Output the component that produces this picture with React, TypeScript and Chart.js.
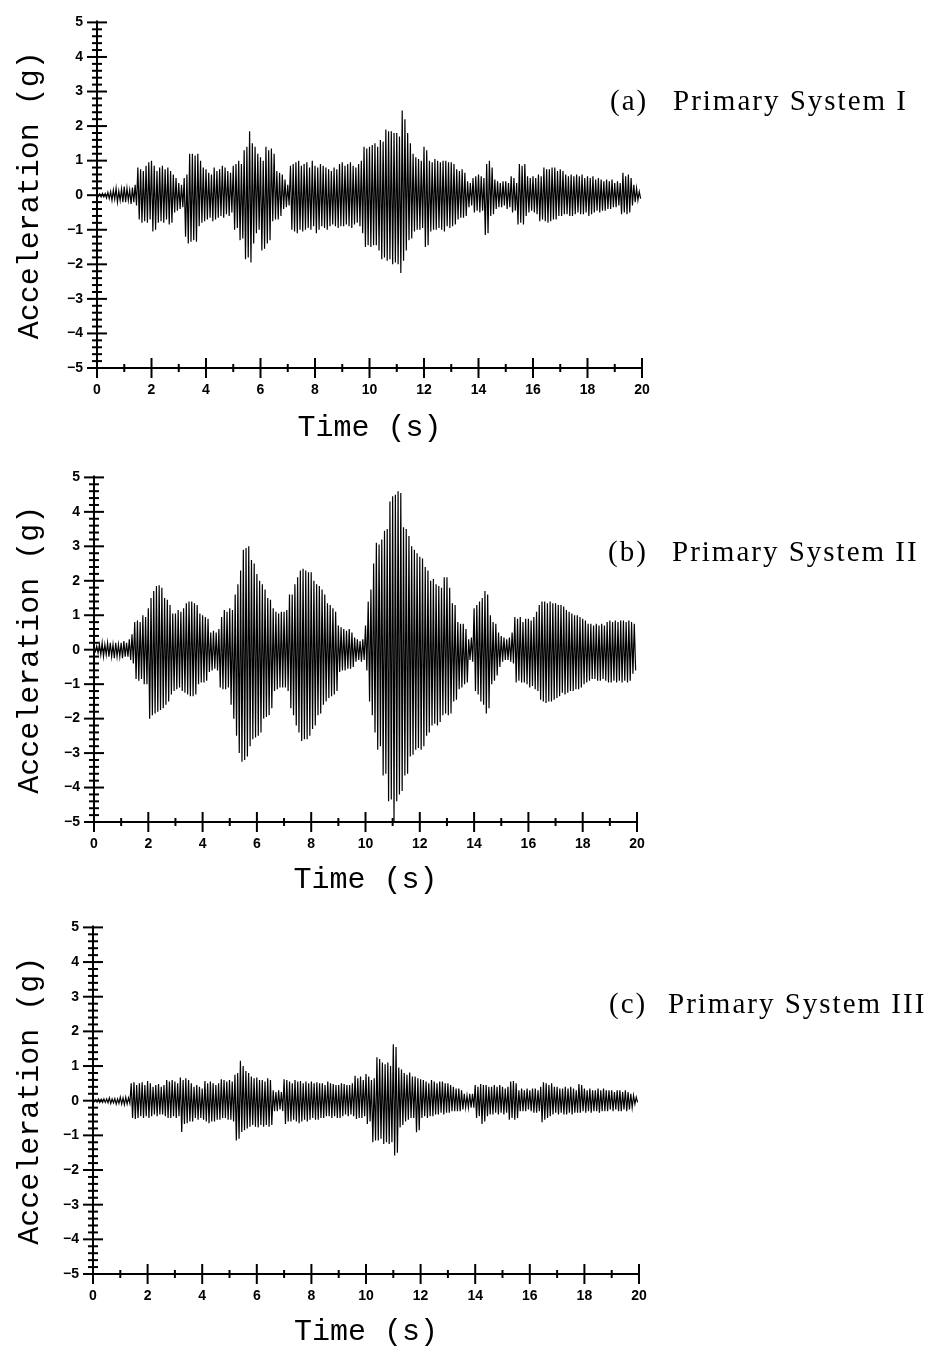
import React, { useEffect, useRef } from 'react';
import { Chart, registerables } from 'chart.js';

Chart.register(...registerables);

// Tick values
const X_TICKS = [0, 2, 4, 6, 8, 10, 12, 14, 16, 18, 20];
const Y_TICKS = [-5, -4, -3, -2, -1, 0, 1, 2, 3, 4, 5];

// Peak readings (g): positive peaks at t = 0.0, 0.1, ..., 19.9 s,
// negative peaks at t = 0.05, 0.15, ..., 19.95 s (one row = 1 s)
const PEAK_STEP = 0.1;

// (a) Primary System I
const upA = [
  0.03, 0.04, 0.05, 0.05, 0.08, 0.1, 0.15, 0.2, 0.12, 0.18,
  0.25, 0.2, 0.15, 0.22, 0.3, 0.8, 0.75, 0.7, 0.85, 0.95,
  1.0, 0.85, 0.7, 0.8, 0.85, 0.75, 0.8, 0.7, 0.6, 0.5,
  0.35, 0.3, 0.5, 0.6, 1.2, 1.2, 1.15, 1.2, 1.0, 0.8,
  0.75, 0.65, 0.6, 0.8, 0.7, 0.75, 0.85, 0.8, 0.7, 0.65,
  0.85, 0.9, 1.0, 0.9, 1.3, 1.4, 1.85, 1.5, 1.4, 1.2,
  1.1, 1.0, 1.4, 1.3, 1.35, 1.2, 0.7, 0.65, 0.6, 0.45,
  0.3, 0.85, 0.9, 0.95, 1.0, 0.85, 0.9, 0.95, 0.8, 1.0,
  0.85, 0.8, 0.9, 0.85, 0.8, 0.75, 0.7, 0.8, 0.75, 0.9,
  0.95, 0.85, 0.9, 0.95, 0.85, 0.8, 0.9, 1.0, 1.4, 1.35,
  1.4, 1.45, 1.5, 1.4, 1.6, 1.55, 1.9, 1.85, 1.85, 1.8,
  1.8, 1.7, 2.45, 2.2, 1.8, 1.5, 1.2, 1.1, 1.05, 1.0,
  1.4, 1.3, 1.0, 0.95, 1.05, 1.0, 0.95, 1.0, 1.0, 0.95,
  0.95, 0.9, 0.75, 0.7, 0.75, 0.65, 0.4, 0.35, 0.5, 0.55,
  0.6, 0.55, 0.5, 0.9, 1.0, 0.8, 0.45, 0.4, 0.35, 0.4,
  0.4, 0.35, 0.55, 0.5, 0.35, 0.9, 0.85, 0.9, 0.55, 0.5,
  0.55, 0.5, 0.6, 0.55, 0.8, 0.75, 0.75, 0.8, 0.8, 0.7,
  0.75, 0.7, 0.6, 0.55, 0.6, 0.55, 0.6, 0.55, 0.6, 0.5,
  0.55, 0.5, 0.55, 0.45, 0.5, 0.45, 0.4, 0.45, 0.4, 0.45,
  0.35, 0.4, 0.35, 0.65, 0.55, 0.6, 0.5, 0.3, 0.2, 0.1,
];
const downA = [
  -0.03, -0.05, -0.05, -0.08, -0.1, -0.15, -0.12, -0.2, -0.15, -0.2,
  -0.2, -0.15, -0.25, -0.2, -0.3, -0.7, -0.8, -0.75, -0.8, -0.7,
  -1.05, -1.0, -0.8, -0.75, -0.8, -0.7, -0.85, -0.8, -0.5, -0.45,
  -0.4, -0.35, -1.2, -1.4, -1.35, -1.3, -1.35, -0.9, -0.8, -0.75,
  -0.7, -0.65, -0.75, -0.7, -0.65, -0.6, -0.65, -0.55, -0.6, -0.5,
  -1.0, -0.95, -1.3, -1.25, -1.85, -1.8, -1.95, -1.4, -1.1, -1.0,
  -1.6, -1.55, -1.4, -1.3, -0.75, -0.7, -0.7, -0.6, -0.4, -0.35,
  -0.3, -1.0, -1.05, -1.1, -1.0, -1.05, -1.0, -0.95, -1.0, -0.9,
  -1.1, -1.0, -0.9, -0.95, -1.0, -0.9, -0.85, -0.9, -0.95, -0.9,
  -0.9, -0.85, -0.9, -0.95, -0.85, -0.8, -0.9, -1.1, -1.5, -1.45,
  -1.5, -1.45, -1.45, -1.6, -1.85, -1.8, -1.9, -1.85, -2.0, -1.95,
  -2.0, -2.25, -1.9, -1.6, -1.3, -1.25, -1.05, -1.0, -1.0, -0.95,
  -1.5, -1.45, -1.05, -1.0, -1.0, -0.95, -1.0, -1.05, -0.9, -0.95,
  -0.9, -0.85, -0.7, -0.65, -0.65, -0.6, -0.35, -0.3, -0.5, -0.45,
  -0.5, -0.45, -1.15, -1.1, -0.6, -0.55, -0.4, -0.35, -0.35, -0.3,
  -0.4, -0.35, -0.5, -0.45, -0.85, -0.8, -0.85, -0.6, -0.5, -0.45,
  -0.5, -0.55, -0.75, -0.7, -0.75, -0.8, -0.75, -0.7, -0.7, -0.6,
  -0.6, -0.55, -0.55, -0.6, -0.6, -0.55, -0.5, -0.55, -0.55, -0.5,
  -0.6, -0.55, -0.5, -0.45, -0.5, -0.45, -0.45, -0.4, -0.4, -0.35,
  -0.35, -0.3, -0.55, -0.5, -0.55, -0.5, -0.3, -0.2, -0.15, -0.1,
];

// (b) Primary System II
const upB = [
  0.05, 0.1, 0.15, 0.2, 0.15, 0.2, 0.2, 0.15, 0.2, 0.15,
  0.2, 0.25, 0.2, 0.3, 0.45, 0.8, 0.85, 0.8, 1.0, 0.95,
  1.2, 1.5, 1.7, 1.85, 1.87, 1.8, 1.5, 1.45, 1.3, 1.05,
  1.05, 1.15, 1.1, 1.2, 1.35, 1.4, 1.4, 1.35, 1.3, 1.05,
  1.0, 0.95, 0.9, 0.5, 0.55, 0.5, 0.6, 0.95, 1.15, 1.1,
  1.2, 1.15, 1.6, 1.9, 2.3, 2.9, 2.95, 3.0, 2.6, 2.5,
  2.2, 2.0, 1.9, 1.75, 1.5, 1.45, 1.2, 1.1, 1.05, 1.1,
  1.1, 1.15, 1.6, 1.6, 1.9, 2.1, 2.3, 2.35, 2.3, 2.25,
  2.25, 2.0, 1.9, 1.85, 1.75, 1.6, 1.35, 1.3, 1.2, 1.1,
  0.7, 0.65, 0.6, 0.55, 0.6, 0.5, 0.35, 0.3, 0.25, 0.3,
  0.7, 1.4, 1.75, 2.5, 3.1, 3.05, 3.2, 3.45, 3.5, 4.3,
  4.45, 4.5, 4.6, 4.55, 3.55, 3.5, 3.3, 3.0, 2.9, 2.8,
  2.7, 2.65, 2.4, 2.3, 2.0, 2.05, 1.9, 1.85, 1.8, 2.1,
  2.1, 1.8, 1.35, 1.3, 0.8, 0.75, 0.75, 0.6, 0.3, 0.35,
  1.2, 1.3, 1.4, 1.5, 1.7, 1.6, 1.0, 0.8, 0.75, 0.5,
  0.4, 0.35, 0.3, 0.35, 0.5, 0.95, 0.9, 0.95, 0.8, 0.9,
  0.9, 0.85, 0.95, 1.1, 1.3, 1.4, 1.4, 1.35, 1.4, 1.35,
  1.35, 1.3, 1.3, 1.25, 1.15, 1.1, 1.05, 1.0, 1.0, 0.95,
  0.9, 0.85, 0.75, 0.75, 0.7, 0.75, 0.7, 0.75, 0.7, 0.8,
  0.85, 0.8, 0.85, 0.8, 0.85, 0.85, 0.8, 0.85, 0.8, 0.75,
];
const downB = [
  -0.05, -0.1, -0.15, -0.2, -0.15, -0.2, -0.2, -0.25, -0.2, -0.2,
  -0.25, -0.2, -0.2, -0.3, -0.4, -0.85, -0.9, -0.85, -1.0, -1.0,
  -2.0, -1.9, -1.85, -1.8, -1.75, -1.7, -1.6, -1.5, -1.3, -1.2,
  -1.15, -1.1, -1.2, -1.25, -1.3, -1.35, -1.35, -1.3, -1.0, -0.95,
  -0.95, -0.9, -0.65, -0.6, -0.55, -0.6, -1.1, -1.15, -1.15, -1.1,
  -1.6, -2.0, -2.5, -3.0, -3.25, -3.2, -3.1, -2.8, -2.6, -2.55,
  -2.5, -2.4, -2.0, -1.95, -1.9, -1.7, -1.2, -1.15, -1.1, -1.1,
  -1.1, -1.2, -1.7, -1.9, -2.2, -2.4, -2.65, -2.6, -2.6, -2.5,
  -2.3, -2.2, -1.9, -1.85, -1.6, -1.5, -1.4, -1.35, -1.3, -1.2,
  -0.65, -0.6, -0.6, -0.55, -0.55, -0.5, -0.35, -0.3, -0.35, -0.3,
  -0.6, -1.5, -1.9, -2.4, -2.9, -2.8, -3.65, -3.6, -4.4, -4.35,
  -5.0, -4.4, -4.2, -4.1, -3.65, -3.6, -3.1, -3.05, -2.9, -2.85,
  -2.9, -2.8, -2.5, -2.4, -2.2, -2.15, -2.2, -2.1, -1.9, -1.85,
  -1.9, -1.85, -1.5, -1.45, -1.15, -1.1, -1.0, -0.95, -0.3, -0.35,
  -1.2, -1.3, -1.5, -1.6, -1.85, -1.7, -1.0, -0.9, -0.75, -0.5,
  -0.35, -0.3, -0.3, -0.35, -0.4, -0.95, -0.9, -0.95, -0.95, -1.0,
  -1.1, -1.05, -1.15, -1.2, -1.45, -1.5, -1.55, -1.5, -1.5, -1.45,
  -1.4, -1.35, -1.25, -1.3, -1.25, -1.2, -1.2, -1.15, -1.15, -1.1,
  -1.0, -0.95, -0.9, -0.85, -0.85, -0.9, -0.9, -0.85, -0.9, -0.95,
  -0.95, -0.9, -0.95, -0.9, -0.95, -0.9, -0.95, -0.9, -0.7, -0.6,
];

// (c) Primary System III
const upC = [
  0.03, 0.03, 0.05, 0.04, 0.05, 0.05, 0.08, 0.05, 0.06, 0.05,
  0.1, 0.08, 0.1, 0.08, 0.5, 0.53, 0.45, 0.5, 0.53, 0.45,
  0.57, 0.5, 0.4, 0.45, 0.48, 0.4, 0.45, 0.6, 0.55, 0.6,
  0.55, 0.5, 0.67, 0.6, 0.65, 0.6, 0.5, 0.4, 0.45, 0.4,
  0.35, 0.57, 0.5, 0.55, 0.5, 0.45, 0.5, 0.62, 0.6, 0.55,
  0.6, 0.55, 0.75, 0.8, 1.15, 1.0, 0.86, 0.8, 0.7, 0.65,
  0.67, 0.6, 0.6, 0.55, 0.65, 0.6, 0.3, 0.25, 0.3, 0.25,
  0.62, 0.6, 0.55, 0.5, 0.6, 0.55, 0.57, 0.5, 0.55, 0.5,
  0.55, 0.5, 0.53, 0.5, 0.5, 0.45, 0.55, 0.5, 0.48, 0.45,
  0.45, 0.5, 0.48, 0.45, 0.45, 0.5, 0.72, 0.65, 0.7, 0.6,
  0.77, 0.7, 0.6, 0.65, 1.25, 1.2, 1.1, 1.05, 1.1, 1.0,
  1.63, 1.55, 0.96, 0.9, 0.8, 0.75, 0.81, 0.7, 0.7, 0.65,
  0.62, 0.6, 0.55, 0.5, 0.6, 0.55, 0.5, 0.55, 0.55, 0.5,
  0.5, 0.45, 0.4, 0.35, 0.35, 0.3, 0.2, 0.15, 0.2, 0.2,
  0.45, 0.4, 0.48, 0.45, 0.45, 0.4, 0.4, 0.45, 0.4, 0.45,
  0.4, 0.35, 0.4, 0.55, 0.57, 0.5, 0.3, 0.35, 0.3, 0.35,
  0.3, 0.35, 0.35, 0.3, 0.4, 0.53, 0.5, 0.45, 0.5, 0.4,
  0.4, 0.35, 0.35, 0.4, 0.35, 0.4, 0.35, 0.3, 0.48, 0.45,
  0.35, 0.3, 0.35, 0.3, 0.3, 0.35, 0.3, 0.35, 0.3, 0.3,
  0.3, 0.25, 0.3, 0.3, 0.25, 0.3, 0.25, 0.2, 0.15, 0.1,
];
const downC = [
  -0.03, -0.04, -0.05, -0.05, -0.05, -0.06, -0.08, -0.06, -0.1, -0.08,
  -0.1, -0.12, -0.1, -0.08, -0.5, -0.53, -0.5, -0.45, -0.5, -0.45,
  -0.5, -0.45, -0.4, -0.45, -0.4, -0.4, -0.45, -0.5, -0.5, -0.45,
  -0.5, -0.45, -0.9, -0.67, -0.65, -0.6, -0.6, -0.5, -0.55, -0.5,
  -0.55, -0.6, -0.65, -0.6, -0.6, -0.55, -0.55, -0.5, -0.5, -0.55,
  -0.55, -0.6, -1.15, -1.1, -0.9, -0.85, -0.8, -0.75, -0.7, -0.75,
  -0.77, -0.7, -0.75, -0.7, -0.75, -0.7, -0.3, -0.3, -0.25, -0.3,
  -0.67, -0.6, -0.6, -0.55, -0.6, -0.65, -0.6, -0.55, -0.6, -0.55,
  -0.5, -0.55, -0.55, -0.5, -0.5, -0.45, -0.45, -0.5, -0.45, -0.5,
  -0.5, -0.45, -0.4, -0.45, -0.4, -0.45, -0.53, -0.5, -0.5, -0.45,
  -0.67, -0.6, -1.2, -1.15, -1.15, -1.1, -1.25, -1.2, -1.25, -1.2,
  -1.58, -1.5, -0.77, -0.7, -0.6, -0.55, -0.5, -0.5, -0.91, -0.85,
  -0.5, -0.45, -0.5, -0.45, -0.45, -0.4, -0.4, -0.35, -0.4, -0.35,
  -0.35, -0.3, -0.3, -0.3, -0.3, -0.25, -0.2, -0.2, -0.2, -0.2,
  -0.5, -0.45, -0.67, -0.6, -0.45, -0.4, -0.4, -0.35, -0.4, -0.35,
  -0.4, -0.35, -0.55, -0.5, -0.55, -0.5, -0.3, -0.3, -0.3, -0.25,
  -0.3, -0.35, -0.35, -0.3, -0.62, -0.55, -0.5, -0.45, -0.4, -0.35,
  -0.4, -0.35, -0.4, -0.4, -0.35, -0.4, -0.35, -0.35, -0.35, -0.3,
  -0.35, -0.3, -0.35, -0.3, -0.3, -0.35, -0.3, -0.3, -0.3, -0.25,
  -0.3, -0.25, -0.3, -0.3, -0.25, -0.3, -0.25, -0.2, -0.1, -0.05,
];

const TICK_FONT = { family: '"Liberation Sans", Arial, sans-serif', size: 14, weight: 'bold' as const };
const TITLE_FONT = { family: '"Liberation Mono", "Courier New", monospace', size: 30, weight: 'normal' as const };

function buildPoints(up: number[], down: number[]) {
  const pts: { x: number; y: number }[] = [];
  for (let k = 0; k < up.length; k++) {
    const t = k * PEAK_STEP;
    pts.push({ x: +t.toFixed(3), y: up[k] });
    pts.push({ x: +(t + PEAK_STEP / 2).toFixed(3), y: down[k] });
  }
  return pts;
}

const crossAxesPlugin = {
  id: 'crossAxes',
  afterDraw(chart: any) {
    const { ctx, scales } = chart;
    const xs = scales.x;
    const ys = scales.y;
    const x0 = xs.getPixelForValue(X_TICKS[0]);
    const x1 = xs.getPixelForValue(X_TICKS[X_TICKS.length - 1]);
    const yTop = ys.getPixelForValue(Y_TICKS[Y_TICKS.length - 1]);
    const yBot = ys.getPixelForValue(Y_TICKS[0]);
    const seg = (a: number, b: number, c: number, d: number) => {
      ctx.beginPath();
      ctx.moveTo(a, b);
      ctx.lineTo(c, d);
      ctx.stroke();
    };
    ctx.save();
    ctx.strokeStyle = '#000';
    ctx.lineCap = 'butt';
    ctx.lineWidth = 2;
    seg(x0, yTop - 2, x0, yBot + 3);
    seg(x0, yBot, x1, yBot);
    for (let i = 0; i < Y_TICKS.length; i++) {
      const v = Y_TICKS[i];
      const py = ys.getPixelForValue(v);
      seg(x0 - 10, py, x0 + 10, py);
      if (i < Y_TICKS.length - 1) {
        const step = (Y_TICKS[i + 1] - v) / 5;
        for (let m = 1; m < 5; m++) {
          const pm = ys.getPixelForValue(v + step * m);
          seg(x0 - 5, pm, x0 + 5, pm);
        }
      }
    }
    for (let i = 0; i < X_TICKS.length; i++) {
      const v = X_TICKS[i];
      const px = xs.getPixelForValue(v);
      seg(px, yBot - 10, px, yBot + 10);
      if (i < X_TICKS.length - 1) {
        const pm = xs.getPixelForValue((v + X_TICKS[i + 1]) / 2);
        seg(pm, yBot - 4, pm, yBot + 4);
      }
    }
    ctx.restore();
  },
};

type PanelProps = {
  up: number[];
  down: number[];
  top: number;
  height: number;
  left: number;
  right: number;
  plotTop: number;
  plotBottom: number;
  xTitlePad: number;
};

function Panel(p: PanelProps) {
  const ref = useRef<HTMLCanvasElement | null>(null);
  useEffect(() => {
    if (!ref.current) return;
    const chart = new Chart(ref.current, {
      type: 'line',
      data: {
        datasets: [
          {
            data: buildPoints(p.up, p.down),
            borderColor: '#000',
            borderWidth: 1.2,
            pointRadius: 0,
            tension: 0,
            fill: false,
          },
        ],
      },
      options: {
        responsive: false,
        animation: false,
        events: [],
        layout: { padding: { left: 0, top: p.plotTop, right: 938 - p.right, bottom: 0 } },
        plugins: { legend: { display: false }, tooltip: { enabled: false } },
        scales: {
          x: {
            type: 'linear',
            min: X_TICKS[0],
            max: X_TICKS[X_TICKS.length - 1],
            afterBuildTicks: (s: any) => {
              s.ticks = X_TICKS.map((v) => ({ value: v }));
            },
            afterFit: (s: any) => {
              s.height = p.height - p.plotBottom;
            },
            grid: { display: false, drawTicks: false },
            border: { display: false },
            ticks: {
              padding: 14,
              color: '#000',
              font: TICK_FONT,
              maxRotation: 0,
              autoSkip: false,
              callback: (v: any) => String(v),
            },
            title: {
              display: true,
              text: 'Time (s)',
              color: '#000',
              font: TITLE_FONT,
              padding: { top: 0, bottom: p.xTitlePad },
            },
          },
          y: {
            type: 'linear',
            min: Y_TICKS[0],
            max: Y_TICKS[Y_TICKS.length - 1],
            afterBuildTicks: (s: any) => {
              s.ticks = Y_TICKS.map((v) => ({ value: v }));
            },
            afterFit: (s: any) => {
              s.width = p.left;
            },
            grid: { display: false, drawTicks: false },
            border: { display: false },
            ticks: {
              padding: 14,
              color: '#000',
              font: TICK_FONT,
              autoSkip: false,
              callback: (v: any) => (v < 0 ? '\u2212' + Math.abs(v) : String(v)),
            },
            title: {
              display: true,
              text: 'Acceleration (g)',
              color: '#000',
              font: TITLE_FONT,
              padding: { top: 12, bottom: 0 },
            },
          },
        },
      },
      plugins: [crossAxesPlugin],
    } as any);
    return () => chart.destroy();
  }, []);
  return (
    <canvas
      ref={ref}
      width={938}
      height={p.height}
      style={{ position: 'absolute', left: 0, top: p.top, width: 938, height: p.height }}
    />
  );
}

const labelStyle: React.CSSProperties = {
  position: 'absolute',
  fontFamily: '"Liberation Serif", "Times New Roman", serif',
  fontSize: 29,
  lineHeight: '29px',
  letterSpacing: '2px',
  color: '#000',
  whiteSpace: 'nowrap',
};

export default function App() {
  return (
    <div style={{ position: 'absolute', left: 0, top: 0, width: 938, height: 1350, background: '#fff', overflow: 'hidden' }}>
      <Panel up={upA} down={downA} top={0} height={455} left={97} right={642} plotTop={17} plotBottom={368} xTitlePad={9} />
      <Panel up={upB} down={downB} top={455} height={450} left={94} right={637} plotTop={20} plotBottom={367} xTitlePad={7} />
      <Panel up={upC} down={downC} top={905} height={445} left={93} right={639} plotTop={21} plotBottom={369} xTitlePad={0} />
      <div style={{ ...labelStyle, left: 610, top: 86 }}>(a)</div>
      <div style={{ ...labelStyle, left: 673, top: 86 }}>Primary System I</div>
      <div style={{ ...labelStyle, left: 608, top: 537 }}>(b)</div>
      <div style={{ ...labelStyle, left: 672, top: 537 }}>Primary System II</div>
      <div style={{ ...labelStyle, left: 609, top: 989 }}>(c)</div>
      <div style={{ ...labelStyle, left: 668, top: 989 }}>Primary System III</div>
    </div>
  );
}
